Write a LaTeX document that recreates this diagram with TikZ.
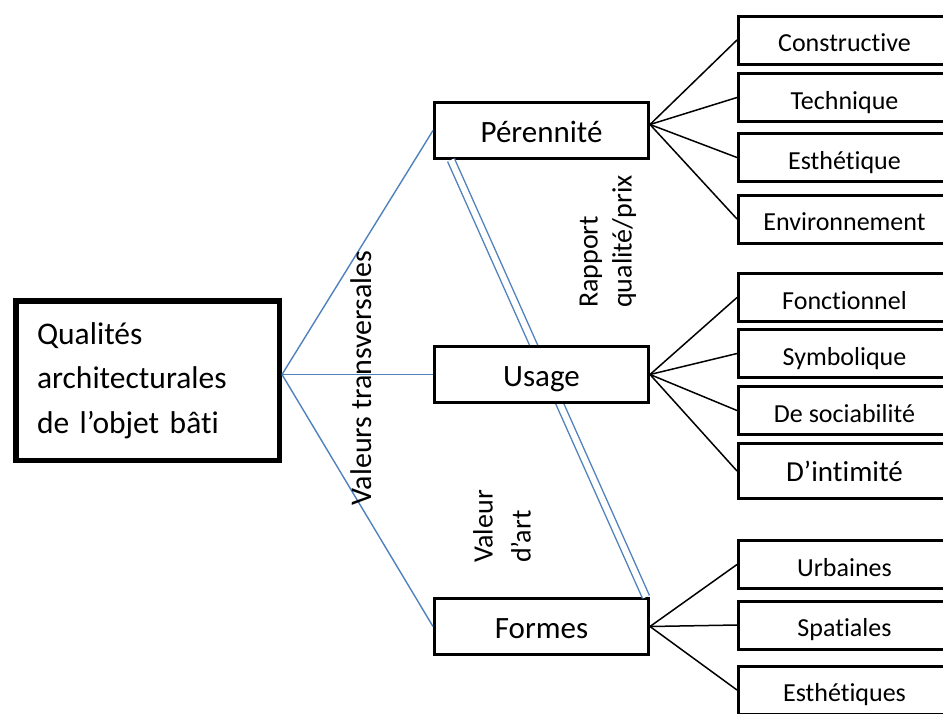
\documentclass[tikz,border=0pt]{standalone}
\usepackage{fontspec}
\setmainfont{Carlito}[Ligatures=NoCommon]
\definecolor{linkblue}{HTML}{4F81BD}

\begin{document}
\begin{tikzpicture}[
    x=1pt, y=-1pt,
    mid/.style={draw, line width=3pt, fill=white, minimum width=214pt, minimum height=56pt,
                text height=23pt, text depth=0pt, font=\fontsize{31}{37}\selectfont},
    leaf/.style={draw, line width=3pt, fill=white, minimum width=212pt, minimum height=48pt,
                 text height=23pt, text depth=0pt, font=\fontsize{26}{31}\selectfont},
    link/.style={draw=linkblue, line width=1.4pt},
    fan/.style={draw, line width=1.5pt},
    side/.style={rotate=90, align=left, inner sep=0pt, font=\fontsize{28}{34}\selectfont}
]
\clip (0,0) rectangle (943,713);

% main box
\node[draw, line width=5.5pt, minimum width=263.5pt, minimum height=159.5pt, text width=221pt, align=left,
      font=\fontsize{31.5}{44.5}\selectfont] (qualites) at (147.5,380.5) {Qualités\\architecturales\\de l’objet bâti};

% the three values, the double link runs under Usage
\node[mid] (perennite) at (541.5,130.5) {Pérennité};
\node[mid] (formes) at (541.5,626.5) {Formes};
\draw[link, double, double distance=6pt] ([xshift=18pt]perennite.south west) -- ([xshift=-4pt]formes.north east);
\node[mid] (usage) at (541.5,374.5) {Usage};

\coordinate (hub) at (qualites.east |- usage.west);
\draw[link] (hub) -- (perennite.west);
\draw[link] (hub) -- (usage.west);
\draw[link] (hub) -- (formes.west);

% leaves
\node[leaf] (constructive) at (844.5,40) {Constructive};
\node[leaf] (technique) at (844.5,97.5) {Technique};
\node[leaf] (esthetique) at (844.5,157.5) {Esthétique};
\node[leaf] (environnement) at (844.5,219) {Environnement};

\node[leaf] (fonctionnel) at (844.5,297.5) {Fonctionnel};
\node[leaf] (symbolique) at (844.5,353.5) {Symbolique};
\node[leaf] (sociabilite) at (844.5,410.5) {De sociabilité};
\node[leaf, minimum height=55pt, text height=20pt, font=\fontsize{29}{35}\selectfont] (intimite) at (844.5,471) {D’intimité};

\node[leaf] (urbaines) at (844.5,564.5) {Urbaines};
\node[leaf] (spatiales) at (844.5,625) {Spatiales};
\node[leaf] (esthetiques) at (844.5,690) {Esthétiques};

\foreach \leaf in {constructive,technique,esthetique,environnement}
    \draw[fan] ([yshift=6pt]perennite.east) -- (\leaf.west);
\foreach \leaf in {fonctionnel,symbolique,sociabilite,intimite}
    \draw[fan] (usage.east) -- (\leaf.west);
\foreach \leaf in {urbaines,spatiales,esthetiques}
    \draw[fan] (formes.east) -- (\leaf.west);

% rotated labels
\node[side, font=\fontsize{30}{36}\selectfont] (transversales) at (361,378) {Valeurs transversales};
\node[side] (rapport) at (608,241.5) {Rapport\\qualité/prix};
\node[side, font=\fontsize{28}{38}\selectfont] (art) at (502,526.5) {Valeur\\d’art};
\end{tikzpicture}
\end{document}
